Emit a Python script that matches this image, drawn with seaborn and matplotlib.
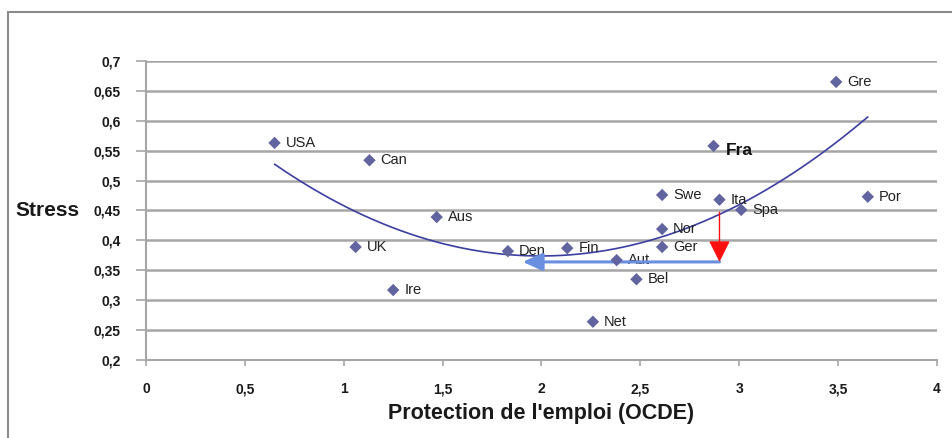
import numpy as np
import pandas as pd
import matplotlib
matplotlib.use("Agg")
import matplotlib.pyplot as plt
import seaborn as sns
from matplotlib.ticker import FuncFormatter, MultipleLocator
from matplotlib.patches import Rectangle

countries = ["USA", "Can", "Aus", "UK", "Ire", "Den", "Fin", "Aut", "Bel", "Net",
             "Swe", "Nor", "Ger", "Fra", "Ita", "Spa", "Gre", "Por"]
protection = [0.65, 1.13, 1.47, 1.06, 1.25, 1.83, 2.13, 2.38, 2.48, 2.26,
              2.61, 2.61, 2.61, 2.87, 2.90, 3.01, 3.49, 3.65]
stress = [0.563, 0.534, 0.439, 0.389, 0.317, 0.382, 0.387, 0.367, 0.335, 0.264,
          0.476, 0.419, 0.389, 0.558, 0.468, 0.451, 0.665, 0.473]

df = pd.DataFrame({"pays": countries, "protection": protection, "stress": stress})

sns.set_theme(style="white")
plt.rcParams["font.family"] = ["Liberation Sans", "DejaVu Sans"]

fig = plt.figure(figsize=(9.53, 4.38), dpi=100)
ax = fig.add_axes([146/953, 1-360/438, (937-146)/953, (360-61)/438])

# outer frame
fig.patches.append(Rectangle((8/953, -0.1), 1.2, 1-12/438+0.1, transform=fig.transFigure,
                             fill=False, edgecolor="#8c8c8c", linewidth=1.5))

ax.set_xlim(0, 4)
ax.set_ylim(0.2, 0.7)
ax.yaxis.set_major_locator(MultipleLocator(0.05))
ax.xaxis.set_major_locator(MultipleLocator(0.5))
fmt = FuncFormatter(lambda v, p: ("%g" % round(v, 3)).replace(".", ","))
ax.xaxis.set_major_formatter(fmt)
ax.yaxis.set_major_formatter(fmt)
ax.grid(axis="y", color="#a6a6a6", linewidth=1.8)
ax.set_axisbelow(True)
for s in ["top", "right"]:
    ax.spines[s].set_visible(False)
for s in ["left", "bottom"]:
    ax.spines[s].set_color("#a6a6a6")
    ax.spines[s].set_linewidth(1.5)
ax.tick_params(axis="y", which="major", length=7, width=1.2, color="#a6a6a6",
               pad=11, labelsize=10, left=True, direction="out")
ax.tick_params(axis="x", which="major", length=4, width=1.2, color="#a6a6a6",
               pad=12, labelsize=10, bottom=True, direction="out")
for lab in ax.get_xticklabels() + ax.get_yticklabels():
    lab.set_fontweight("bold")
    lab.set_color("#1a1a1a")

# trend (2nd order polynomial fit of the data)
coef = np.polyfit(df["protection"], df["stress"], 2)
xs = np.linspace(min(protection), max(protection), 200)
trend = pd.DataFrame({"x": xs, "y": np.polyval(coef, xs)})
sns.lineplot(data=trend, x="x", y="y", ax=ax, color="#3b3fa0", linewidth=1.2)

sns.scatterplot(data=df, x="protection", y="stress", ax=ax, marker="D", s=40,
                color="#62649f", edgecolor="none", zorder=4)

for c, x, y in zip(countries, protection, stress):
    if c == "Fra":
        ax.annotate(c, (x, y), xytext=(9, -3), textcoords="offset points",
                    va="center", ha="left", fontsize=12.5, fontweight="bold", color="#111111")
    else:
        ax.annotate(c, (x, y), xytext=(8, 0), textcoords="offset points",
                    va="center", ha="left", fontsize=10.5, color="#222222")

# arrows
ax.annotate("", xy=(1.905, 0.364), xytext=(2.90, 0.364),
            arrowprops=dict(arrowstyle="-|>,head_length=1.0,head_width=0.45",
                            color="#6a8ee0", lw=2.2, shrinkA=0, shrinkB=0), zorder=3)
ax.annotate("", xy=(2.90, 0.364), xytext=(2.90, 0.447),
            arrowprops=dict(arrowstyle="-|>,head_length=1.1,head_width=0.55",
                            color="#ff1010", lw=1.0, shrinkA=0, shrinkB=0), zorder=5)

ax.set_xlabel("Protection de l'emploi (OCDE)", fontsize=15.5, fontweight="bold",
              color="#1a1a1a", labelpad=5)
ax.set_ylabel("")
fig.text(15/953, 1-211/438, "Stress", fontsize=15, fontweight="bold",
         color="#1a1a1a", ha="left", va="center")

fig.savefig("out.png", dpi=100)
